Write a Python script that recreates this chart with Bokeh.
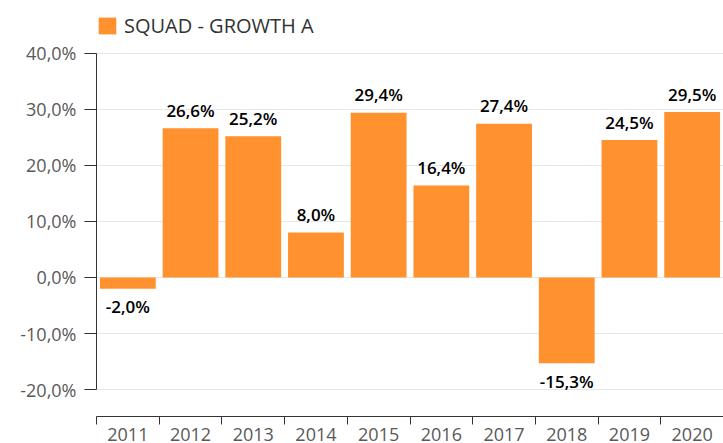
from bokeh.plotting import figure
from bokeh.models import FixedTicker, Legend, LegendItem, ColumnDataSource, Range1d
from bokeh.core.properties import value
from bokeh.embed import file_html
from bokeh.resources import INLINE

years = ["2011", "2012", "2013", "2014", "2015", "2016", "2017", "2018", "2019", "2020"]
values = [-2.0, 26.6, 25.2, 8.0, 29.4, 16.4, 27.4, -15.3, 24.5, 29.5]
y_ticks = [-20, -10, 0, 10, 20, 30, 40]
series_name = "SQUAD - GROWTH A"

FONT = "Open Sans"
ORANGE = "#ff922e"

xs = [i + 0.5 for i in range(len(years))]
labels = [f"{v:.1f}%".replace(".", ",") for v in values]
offsets = [-18 if v >= 0 else 18 for v in values]
src = ColumnDataSource(dict(x=xs, top=values, label=labels, off=offsets))

p = figure(width=723, height=443, x_range=Range1d(0, len(years)), y_range=Range1d(-24.8, 49.4),
           output_backend="svg", toolbar_location=None,
           min_border_left=96, min_border_right=0, min_border_top=0, min_border_bottom=0)
p.outline_line_color = None
p.background_fill_color = "white"

bars = p.vbar(x="x", top="top", bottom=0, width=0.89, source=src,
              fill_color=ORANGE, line_color=None)
p.text(x="x", y="top", text="label", y_offset="off", source=src,
       text_align="center", text_baseline="middle", text_color="black",
       text_font=value("Open Sans SemiBold, Open Sans"), text_font_size="17px")

# y axis
p.yaxis.ticker = FixedTicker(ticks=y_ticks)
p.yaxis.major_label_overrides = {t: f"{t:.1f}%".replace(".", ",") for t in y_ticks}
p.yaxis.bounds = (min(y_ticks), max(y_ticks))
p.yaxis.major_tick_out = 12
p.yaxis.major_tick_in = 0
p.yaxis.minor_tick_line_color = None
p.yaxis.axis_line_color = "#333333"
p.yaxis.major_tick_line_color = "#333333"
p.yaxis.major_label_text_color = "#595959"
p.yaxis.major_label_text_font = FONT
p.yaxis.major_label_text_font_size = "18px"
p.yaxis.major_label_standoff = 8

# x axis
p.xaxis.ticker = FixedTicker(ticks=xs, minor_ticks=list(range(len(years) + 1)))
p.xaxis.major_label_overrides = {x: y for x, y in zip(xs, years)}
p.xaxis.major_tick_out = 0
p.xaxis.major_tick_in = 0
p.xaxis.minor_tick_out = 8
p.xaxis.minor_tick_in = 0
p.xaxis.axis_line_color = "#333333"
p.xaxis.minor_tick_line_color = "#333333"
p.xaxis.major_label_text_color = "#595959"
p.xaxis.major_label_text_font = FONT
p.xaxis.major_label_text_font_size = "18px"
p.xaxis.major_label_standoff = 3

p.xgrid.grid_line_color = None
p.ygrid.ticker = FixedTicker(ticks=y_ticks)
p.ygrid.grid_line_color = "#e6e6e6"

legend = Legend(items=[LegendItem(label=series_name, renderers=[bars])],
                location=(0, 377), orientation="horizontal",
                glyph_width=22, glyph_height=21, label_standoff=6,
                padding=0, margin=0, border_line_color=None,
                background_fill_alpha=0,
                label_text_font=FONT, label_text_font_size="20px",
                label_text_color="#333333")
p.add_layout(legend)

open("out.html", "w").write(file_html(p, INLINE))
